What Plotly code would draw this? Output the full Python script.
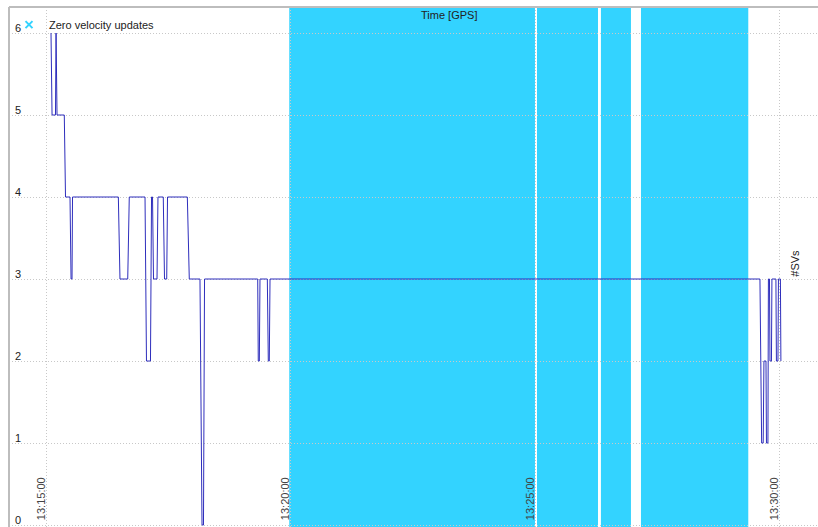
import pandas as pd
import plotly.graph_objects as go

# Session reference epoch (GPS time of day)
t0 = pd.Timestamp("2016-05-12 13:15:00")

# Number of tracked satellites: sample times (s after 13:15:00) and counts
sv_sec = [6.1, 7.4, 11.6, 12.3, 13.5, 22.4, 23.9, 29.4, 30.7, 31.9, 32.5,
          88.7, 90.7, 100.2, 102.1, 121.4, 123.2, 128.1, 129.4, 130.6,
          131.8, 136.1, 137.3, 143.8, 145.3, 148.0, 149.0, 173.3, 175.7,
          188.8, 191.3, 193.1, 194.4, 259.6, 260.3, 261.6, 262.4, 271.4,
          272.6, 273.8, 274.7, 875.5, 877.6, 879.5, 880.4, 882.9, 883.5,
          885.3, 885.9, 887.2, 887.8, 889.6, 890.2, 895.1, 895.7, 897.6,
          898.2, 900.6, 901.2]
sv_count = [6, 5, 5, 6, 5, 5, 4, 4, 3, 3, 4,
            4, 3, 3, 4, 4, 2, 2, 4, 4,
            3, 3, 4, 4, 3, 3, 4, 4, 3,
            3, 0, 0, 3, 3, 2, 2, 3, 3,
            2, 2, 3, 3, 1, 1, 2, 2, 1,
            1, 3, 3, 2, 2, 3, 3, 2, 2,
            3, 3, 2]

# Zero velocity update intervals (s after 13:15:00)
zupt_start = [298.3, 602.1, 680.5, 729.6]
zupt_end = [599.6, 676.9, 717.3, 861.2]

# Axis ticks
tick_sec = [0, 300, 600, 900]
y_ticks = [0, 1, 2, 3, 4, 5, 6]


def to_time(s):
    return (t0 + pd.Timedelta(seconds=s)).strftime("%Y-%m-%d %H:%M:%S.%f")


x_sv = [to_time(s) for s in sv_sec]
tick_vals = [to_time(s) for s in tick_sec]
tick_text = [(t0 + pd.Timedelta(seconds=s)).strftime("%H:%M:%S") for s in tick_sec]

ZUPT_COLOR = "#33D3FF"
LINE_COLOR = "#2E2EBC"
GRID_COLOR = "#C8C8C8"
FONT = "Liberation Sans"
Y_RANGE = [-0.024, 6.317]

fig = go.Figure()

# Legend entry for the zero velocity update periods (carries the label axis)
fig.add_trace(go.Scatter(
    x=[None], y=[None], mode="markers", name="Zero velocity updates",
    marker=dict(symbol="x-thin", size=7, color=ZUPT_COLOR,
                line=dict(color=ZUPT_COLOR, width=2)),
    showlegend=True, yaxis="y2",
))

fig.add_trace(go.Scatter(
    x=x_sv, y=sv_count, mode="lines", name="#SVs", showlegend=False,
    line=dict(color=LINE_COLOR, width=1),
))

shapes = []
for s, e in zip(zupt_start, zupt_end):
    shapes.append(dict(
        type="rect", xref="x", yref="paper", x0=to_time(s), x1=to_time(e),
        y0=0, y1=1, fillcolor=ZUPT_COLOR, line=dict(width=0), layer="below",
    ))
# Plot frame (left and top)
shapes.append(dict(type="line", xref="paper", yref="paper", x0=0, x1=0,
                   y0=0, y1=1, line=dict(color="#BDBDBD", width=2)))
shapes.append(dict(type="line", xref="paper", yref="paper", x0=0, x1=1,
                   y0=1, y1=1, line=dict(color="#BDBDBD", width=2)))

fig.update_layout(
    width=818, height=527,
    margin=dict(l=9, r=0, t=7, b=0),
    paper_bgcolor="white", plot_bgcolor="white",
    font=dict(family=FONT, size=11, color="#222222"),
    shapes=shapes,
    showlegend=True,
    legend=dict(
        x=0.0, y=0.994, xanchor="left", yanchor="top",
        bgcolor="rgba(255,255,255,0)", borderwidth=0,
        font=dict(family=FONT, size=11, color="#222222"),
        itemwidth=30, tracegroupgap=0,
    ),
    annotations=[
        dict(text="Time [GPS]", xref="paper", yref="paper", x=0.544, y=0.985,
             xanchor="center", yanchor="middle", showarrow=False,
             font=dict(family=FONT, size=11, color="#222222")),
        dict(text="#SVs", xref="paper", yref="paper", x=0.972, y=0.507,
             xanchor="center", yanchor="middle", showarrow=False, textangle=-90,
             font=dict(family=FONT, size=11, color="#222222")),
    ],
    # Value labels drawn just inside the left edge of the plot
    yaxis2=dict(
        overlaying="y", anchor="free", position=0, side="right",
        range=Y_RANGE, tickmode="array", tickvals=y_ticks,
        ticklabelposition="outside", ticklabelstandoff=5, ticklabelshift=-5,
        ticklabeloverflow="allow",
        showgrid=False, zeroline=False, showline=False, ticks="",
        automargin=False,
    ),
)

fig.update_xaxes(
    type="date",
    range=[to_time(-45.4), to_time(946.7)],
    tickmode="array", tickvals=tick_vals, ticktext=tick_text,
    tickangle=-90, ticklabelposition="inside", ticklabelshift=-5,
    ticklabeloverflow="allow",
    showgrid=True, gridcolor=GRID_COLOR, griddash="1px,2px", gridwidth=1,
    zeroline=False, showline=False, ticks="",
)
fig.update_yaxes(
    selector=dict(overlaying=None),
    range=Y_RANGE,
    tickmode="array", tickvals=y_ticks, showticklabels=False,
    showgrid=True, gridcolor=GRID_COLOR, griddash="1px,2px", gridwidth=1,
    zeroline=False, showline=False, ticks="",
)

fig.write_html("out.html")
